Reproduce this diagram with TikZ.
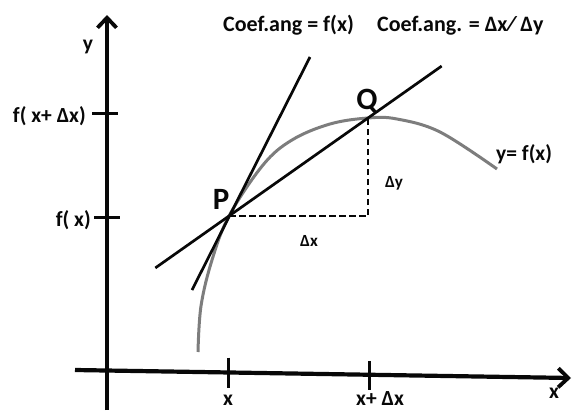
\documentclass[tikz,border=0pt]{standalone}
\usepackage{fontspec}
\setmainfont{Carlito}
\usetikzlibrary{arrows.meta,calc}
\definecolor{inkclr}{RGB}{8,8,8}
\definecolor{curveclr}{RGB}{125,125,125}
\tikzset{
  %% coordinate axes
  axis/.style={line width=4.2pt,color=inkclr,
    -{Straight Barb[length=10pt,width=19pt,line width=3.8pt]}},
  %% small marks on the axes
  tick/.style={line width=3pt,color=inkclr},
  %% secant and tangent lines
  sline/.style={line width=2.7pt,color=inkclr},
  %% the graph of f
  fcurve/.style={line width=3pt,color=curveclr},
  %% increments
  incr/.style={line width=2.4pt,color=inkclr,dash pattern=on 6.5pt off 3.5pt},
  %% texts
  ttl/.style={font=\fontsize{22}{25}\selectfont\bfseries,text=inkclr,inner sep=0pt},
  axlbl/.style={font=\fontsize{21.5}{24}\selectfont\bfseries,text=inkclr,inner sep=0pt},
  ptlbl/.style={font=\fontsize{31}{34}\selectfont\bfseries,text=inkclr,inner sep=0pt},
  dlbl/.style={font=\fontsize{17}{19}\selectfont\bfseries,text=inkclr,inner sep=0pt},
}

\begin{document}
\begin{tikzpicture}[x=1pt,y=-1pt]
  \useasboundingbox (0,0) rectangle (573,410);
  %% points on the curve
  \coordinate (P) at (229,216);
  \coordinate (Q) at (368,118);
  \coordinate (R) at (Q|-P);
  %% axes
  \coordinate (ybot) at (107,410);
  \coordinate (ytop) at (107,15);
  \coordinate (xleft) at (75,370);
  \coordinate (xright) at (571,378);
  \draw[axis] (ybot) -- (ytop);
  \draw[axis] (xleft) -- (xright);
  %% ticks
  \coordinate (tx) at (228,372.5);
  \coordinate (tdx) at (369,374.8);
  \coordinate (tfx) at (107,217);
  \coordinate (tfdx) at (107,113);
  \draw[tick] ($(tx)+(0,-15)$) -- ($(tx)+(0,15)$);
  \draw[tick] ($(tdx)+(0,-14)$) -- ($(tdx)+(0,15)$);
  \draw[tick] ($(tfx)+(-13,0)$) -- ($(tfx)+(13,0)$);
  \draw[tick] ($(tfdx)+(-15,0)$) -- ($(tfdx)+(11,0)$);
  %% graph of f
  \draw[fcurve] plot[smooth,tension=0.6] coordinates
    {(198,352) (201,306) (212,260) (P) (263,165) (292,140) (330,124)
     (Q) (397,119) (440,132) (497,169)};
  %% secant through P and Q, tangent at P
  \draw[sline] ($(P)!-0.53!(Q)$) -- ($(P)!1.53!(Q)$);
  \coordinate (tlow) at (192,290);
  \coordinate (thigh) at (310,57);
  \draw[sline] (tlow) -- (thigh);
  %% increments
  \draw[incr] (P) -- (R) -- (Q);
  %% labels
  \node[ttl,anchor=base west] (coef1) at (223,31) {Coef.ang = f(x)};
  \node[ttl,anchor=base west] (coef2) at (377,31) {Coef.ang. = Δx⁄ Δy};
  \node[axlbl,anchor=base] (ylbl) at (88,50) {y};
  \node[axlbl,anchor=base] (xlbl) at (554,398) {x};
  \node[axlbl,anchor=base east] (fdxlbl) at (86,122) {f( x+ Δx)};
  \node[axlbl,anchor=base east] (fxlbl) at (91,226) {f( x)};
  \node[axlbl,anchor=base] (xval) at (228,405) {x};
  \node[axlbl,anchor=base west] (dxval) at (356,405) {x+ Δx};
  \node[axlbl,anchor=base west] (flbl) at (496,160) {y= f(x)};
  \node[ptlbl,anchor=base] (plbl) at (221,209) {P};
  \node[ptlbl,anchor=base] (qlbl) at (367,109) {Q};
  \node[dlbl,anchor=base] (dxlbl) at (309,246) {Δx};
  \node[dlbl,anchor=base] (dylbl) at (394,187) {Δy};
\end{tikzpicture}
\end{document}
